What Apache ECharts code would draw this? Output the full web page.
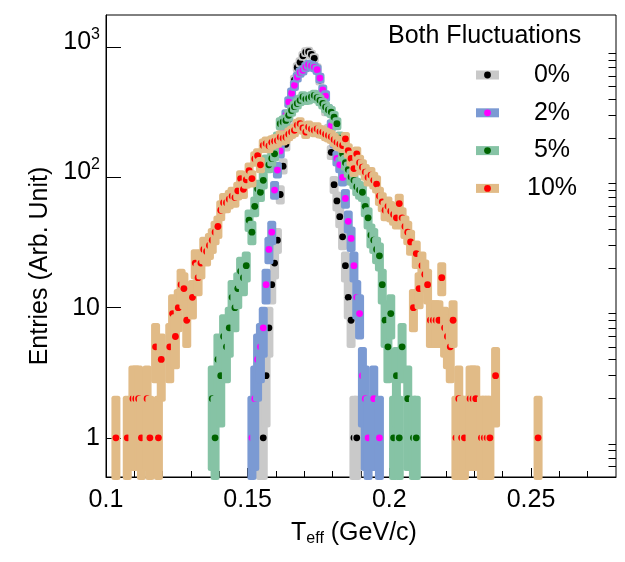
<!DOCTYPE html>
<html><head><meta charset="utf-8">
<script src="https://cdn.jsdelivr.net/npm/echarts@6/dist/echarts.min.js"></script>
<style>html,body{margin:0;padding:0;background:#fff}#c{width:625px;height:562px}</style>
</head><body><div id="c"></div>
<script>
// ---- tick labels ----
const xTickLabels = [0.1, 0.15, 0.2, 0.25];
const xMinorTicks = [0.11,0.12,0.13,0.14,0.16,0.17,0.18,0.19,0.21,0.22,0.23,0.24,0.26,0.27];
const yTickLabels = [1, 10, 100, 1000];
const yMinorTicks = [0.5,0.6,0.7,0.8,0.9,2,3,4,5,6,7,8,9,20,30,40,50,60,70,80,90,200,300,400,500,600,700,800,900];
const seriesNames = ['0%', '2%', '5%', '10%'];

// ---- 0% ----
const x0 = [0.1545,0.1555,0.1565,0.1575,0.1585,0.1595,0.1605,0.1615,0.1625,0.1635,0.1645,0.1655,0.1665,0.1675,0.1685,0.1695,0.1705,0.1715,0.1725,0.1735,0.1745,0.1755,0.1765,0.1775,0.1785,0.1795,0.1805,0.1815,0.1825,0.1835,0.1845,0.1855,0.1865,0.1875,0.1885];
const n0 = [1,1,3,7,15,22,33,74,122,180,280,400,560,700,767,860,917,925,880,823,690,560,440,330,230,156,88,66,50,35,21,12,8,1,1];

// ---- 2% ----
const x2 = [0.1515,0.1525,0.1535,0.1545,0.1555,0.1565,0.1575,0.1585,0.1595,0.1605,0.1615,0.1625,0.1635,0.1645,0.1655,0.1665,0.1675,0.1685,0.1695,0.1705,0.1715,0.1725,0.1735,0.1745,0.1755,0.1765,0.1775,0.1785,0.1795,0.1805,0.1815,0.1825,0.1835,0.1845,0.1855,0.1865,0.1875,0.1885,0.1895,0.1905,0.1915,0.1925,0.1945,0.1965];
const n2 = [1,2,4,5,7,15,28,38,80,114,160,220,300,380,444,510,590,640,665,705,735,720,705,673,580,470,422,330,250,190,140,125,100,69,46,34,21,12,9,3,2,1,2,1];

// ---- 5% ----
const x5 = [0.1375,0.1385,0.1395,0.1405,0.1415,0.1425,0.1435,0.1445,0.1455,0.1465,0.1475,0.1485,0.1495,0.1505,0.1515,0.1525,0.1535,0.1545,0.1555,0.1565,0.1575,0.1585,0.1595,0.1605,0.1615,0.1625,0.1635,0.1645,0.1655,0.1665,0.1675,0.1685,0.1695,0.1705,0.1715,0.1725,0.1735,0.1745,0.1755,0.1765,0.1775,0.1785,0.1795,0.1805,0.1815,0.1825,0.1835,0.1845,0.1855,0.1865,0.1875,0.1885,0.1895,0.1905,0.1915,0.1925,0.1935,0.1945,0.1955,0.1965,0.1975,0.1985,0.1995,0.2005,0.2015,0.2025,0.2035,0.2045,0.2065,0.2085,0.2095];
const n5 = [2,1,4,3,6,5,7,12,10,14,19,17,21,47,38,60,82,77,95,131,125,140,152,200,259,267,274,300,327,350,370,391,415,400,404,415,427,410,391,370,347,330,318,290,259,200,152,130,115,101,95,85,80,77,60,49,36,33,28,25,15,8,5,9,1,3,1,5,2,1,1];

// ---- 10% ----
const x10 = [0.1035,0.1075,0.1095,0.1105,0.1115,0.1125,0.1145,0.1155,0.1175,0.1185,0.1195,0.1225,0.1235,0.1245,0.1255,0.1265,0.1275,0.1285,0.1305,0.1315,0.1325,0.1335,0.1345,0.1355,0.1365,0.1375,0.1385,0.1395,0.1405,0.1415,0.1425,0.1435,0.1445,0.1455,0.1465,0.1475,0.1485,0.1495,0.1505,0.1515,0.1525,0.1535,0.1545,0.1555,0.1565,0.1575,0.1585,0.1595,0.1605,0.1615,0.1625,0.1635,0.1645,0.1655,0.1665,0.1675,0.1685,0.1695,0.1705,0.1715,0.1725,0.1735,0.1745,0.1755,0.1765,0.1775,0.1785,0.1795,0.1805,0.1815,0.1825,0.1835,0.1845,0.1855,0.1865,0.1875,0.1885,0.1895,0.1905,0.1915,0.1925,0.1935,0.1945,0.1955,0.1965,0.1975,0.1985,0.1995,0.2005,0.2015,0.2025,0.2035,0.2045,0.2055,0.2065,0.2075,0.2085,0.2095,0.2105,0.2115,0.2125,0.2135,0.2145,0.2155,0.2165,0.2175,0.2185,0.2195,0.2205,0.2215,0.2225,0.2235,0.2245,0.2255,0.2265,0.2285,0.2295,0.2305,0.2325,0.2335,0.2345,0.2355,0.2375,0.2525];
const n10 = [1,1,2,2,2,1,2,1,5,1,4,5,9,6,10,15,14,8,12,22,17,22,28,27,30,33,38,42,56,64,64,68,72,70,79,98,81,96,113,98,139,147,125,176,182,175,186,190,192,204,200,204,215,223,230,252,259,240,223,244,236,230,236,225,223,215,210,205,195,186,180,176,198,161,140,117,152,130,120,110,100,104,95,89,72,65,56,60,55,52,49,63,49,42,38,32,10,26,14,21,18,15,8,8,8,8,17,7,6,5,8,1,2,1,1,2,2,2,1,1,1,1,3,1];

const bandColors = ['#c9c9c9', '#7b9ad3', '#86c3a5', '#e1bb87'];
const markColors = ['#000000', '#ff00ff', '#006400', '#ff0000'];
const xs = [x0, x2, x5, x10];
const ns = [n0, n2, n5, n10];

const FONT = "'Liberation Sans', Arial, Helvetica, sans-serif";

function makeRender(bandColor, markColor) {
  return function (params, api) {
    const x = api.value(0), n = api.value(1);
    const err = Math.sqrt(n);
    const cs = params.coordSys;
    const bottom = cs.y + cs.height;
    const c = api.coord([x, n]);
    const top = api.coord([x, n + err])[1];
    let bot = (n - err) > 0 ? api.coord([x, n - err])[1] : bottom;
    bot = Math.min(bot, bottom);
    const y1 = Math.max(top - 3, cs.y);
    const y2 = bot + 3;
    const w = 9;
    return {
      type: 'group',
      children: [
        { type: 'rect', shape: { x: c[0] - w / 2, y: y1, width: w, height: y2 - y1, r: 2.5 }, style: { fill: bandColor } },
        { type: 'circle', shape: { cx: c[0], cy: c[1], r: 3.4 }, style: { fill: markColor } }
      ]
    };
  };
}

const series = seriesNames.map(function (name, i) {
  return {
    type: 'custom', name: name, silent: true,
    coordinateSystem: 'cartesian2d', xAxisIndex: 0, yAxisIndex: 0,
    renderItem: makeRender(bandColors[i], markColors[i]),
    data: xs[i].map(function (x, k) { return [x, ns[i][k]]; }),
    z: 2 + i
  };
});

// legend graphic
const legendItems = [];
legendItems.push({ type: 'text', left: 388, top: 24, style: { text: 'Both Fluctuations', font: '25px ' + FONT, fill: '#000' } });
seriesNames.forEach(function (name, i) {
  const cy = 75 + i * 37.8;
  legendItems.push({ type: 'rect', shape: { x: 476, y: cy - 4.5, width: 23, height: 9 }, style: { fill: bandColors[i] } });
  legendItems.push({ type: 'circle', shape: { cx: 487.5, cy: cy, r: 3.4 }, style: { fill: markColors[i] } });
  legendItems.push({ type: 'text', x: 552, y: cy, style: { text: name, font: '25px ' + FONT, fill: '#000', align: 'center', verticalAlign: 'middle' } });
});

const chart = echarts.init(document.getElementById('c'), null, { renderer: 'canvas' });
chart.setOption({
  animation: false,
  backgroundColor: '#fff',
  textStyle: { fontFamily: FONT },
  grid: { left: 106, right: 9, top: 15, bottom: 85, show: true, borderColor: '#000', borderWidth: 1, backgroundColor: 'transparent' },
  xAxis: [
    {
      type: 'value', min: 0.1, max: 0.28,
      axisLine: { lineStyle: { color: '#000', width: 1 } },
      axisTick: { inside: true, length: 9, customValues: xTickLabels, lineStyle: { color: '#000' } },
      axisLabel: { customValues: xTickLabels, fontSize: 25, color: '#000', margin: 11, fontFamily: FONT, formatter: function (v) { return String(+v.toFixed(2)); } },
      splitLine: { show: false },
      name: 'T{sub|eff} (GeV/c)', nameLocation: 'middle', nameGap: 42,
      nameTextStyle: { fontSize: 25, color: '#000', fontFamily: FONT, padding: [0, 14, 0, 0],
        rich: { sub: { fontSize: 16, fontFamily: FONT, padding: [12, 0, 0, 0] } } }
    },
    {
      type: 'value', min: 0.1, max: 0.28, position: 'bottom',
      axisLine: { show: false },
      axisTick: { inside: true, length: 6, customValues: xMinorTicks, lineStyle: { color: '#000' } },
      axisLabel: { show: false }, splitLine: { show: false }
    }
  ],
  yAxis: [
    {
      type: 'log', logBase: 10, min: 0.5, max: 1770,
      axisLine: { show: true, lineStyle: { color: '#000', width: 1 } },
      axisTick: { show: true, inside: true, length: 15, customValues: yTickLabels, lineStyle: { color: '#000' } },
      axisLabel: {
        customValues: yTickLabels, fontSize: 25, color: '#000', margin: 6, fontFamily: FONT,
        formatter: function (v) {
          if (v >= 999) return '{b|10}{s|3}';
          if (v >= 99) return '{b|10}{s|2}';
          return '{p|' + Math.round(v) + '}';
        },
        rich: {
          p: { fontSize: 25, fontFamily: FONT, color: '#000' },
          b: { fontSize: 25, fontFamily: FONT, color: '#000', verticalAlign: 'top', padding: [3, 0, 13, 0] },
          s: { fontSize: 16, fontFamily: FONT, color: '#000', verticalAlign: 'top' }
        }
      },
      splitLine: { show: false },
      name: 'Entries (Arb. Unit)', nameLocation: 'middle', nameGap: 49,
      nameTextStyle: { fontSize: 25, color: '#000', fontFamily: FONT, padding: [0, 40, 0, 0] }
    },
    {
      type: 'log', logBase: 10, min: 0.5, max: 1770,
      axisLine: { show: false },
      axisTick: { show: true, inside: true, length: 7.5, customValues: yMinorTicks, lineStyle: { color: '#000' } },
      axisLabel: { show: false }, splitLine: { show: false }
    }
  ],
  graphic: legendItems,
  series: series
});
</script></body></html>
